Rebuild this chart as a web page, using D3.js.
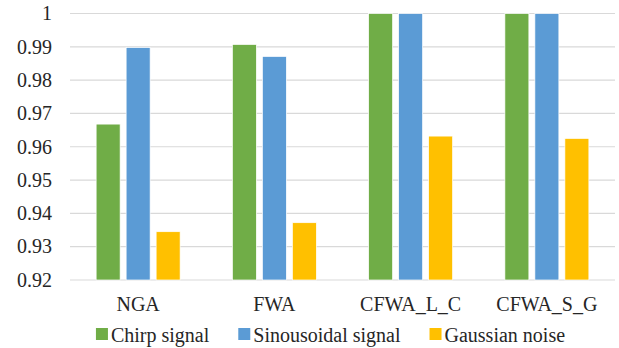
<!DOCTYPE html>
<html>
<head>
<meta charset="utf-8">
<script src="https://cdn.jsdelivr.net/npm/d3@7"></script>
</head>
<body style="margin:0">
<svg id="chart" width="619" height="348"></svg>
<script>
// Categories, series and values
const categories = ["NGA", "FWA", "CFWA_L_C", "CFWA_S_G"];
const seriesNames = ["Chirp signal", "Sinousoidal signal", "Gaussian noise"];
const seriesColors = ["#70AD47", "#5B9BD5", "#FFC000"];
const chirpValues = [0.9668, 0.9907, 1.0, 1.0];
const sinusoidValues = [0.9898, 0.9871, 1.0, 1.0];
const gaussianValues = [0.9345, 0.9372, 0.9632, 0.9625];
const yTicks = [0.92, 0.93, 0.94, 0.95, 0.96, 0.97, 0.98, 0.99, 1];

const seriesValues = [chirpValues, sinusoidValues, gaussianValues];
const serifFace = "'Liberation Serif', 'Times New Roman', serif";

// Apply the serif face and text colour to a text selection
function serifText(sel) {
  sel.style("font-family", serifFace, "important")
     .style("font-size", "20px", "important")
     .style("fill", "#262626");
}

const svg = d3.select("#chart");
const plot = { left: 70, right: 615, top: 13.5, bottom: 280 };

const y = d3.scaleLinear().domain([0.92, 1]).range([plot.bottom, plot.top]);
const x0 = d3.scaleBand().domain(categories).range([plot.left, plot.right]).padding(0);
const groupWidth = 84;
const x1 = d3.scaleBand().domain(seriesNames).range([0, groupWidth]).paddingInner(0.2);

// Horizontal gridlines
svg.append("g")
  .selectAll("line")
  .data(yTicks)
  .join("line")
  .attr("x1", plot.left)
  .attr("x2", plot.right)
  .attr("y1", d => y(d))
  .attr("y2", d => y(d))
  .attr("stroke", "#d9d9d9")
  .attr("stroke-width", 1.2);

// Y tick labels
svg.append("g")
  .selectAll("text")
  .data(yTicks)
  .join("text")
  .attr("x", 52)
  .attr("y", d => y(d) + 6.8)
  .attr("text-anchor", "end")
  .call(serifText)
  .text(d => d3.format("")(d));

// Bars
const groups = svg.append("g")
  .selectAll("g")
  .data(categories)
  .join("g")
  .attr("transform", c => `translate(${x0(c) + x0.bandwidth() / 2 - groupWidth / 2},0)`);

groups.selectAll("rect")
  .data((c, i) => seriesNames.map((s, k) => ({ s, k, v: seriesValues[k][i] })))
  .join("rect")
  .attr("x", d => x1(d.s))
  .attr("width", x1.bandwidth())
  .attr("y", d => y(d.v))
  .attr("height", d => y(0.92) - y(d.v))
  .attr("fill", d => seriesColors[d.k])
  .attr("stroke", "#ffffff")
  .attr("stroke-width", 0.7);

// Category labels
svg.append("g")
  .selectAll("text")
  .data(categories)
  .join("text")
  .attr("x", c => x0(c) + x0.bandwidth() / 2)
  .attr("y", 311)
  .attr("text-anchor", "middle")
  .call(serifText)
  .text(c => c);

// Legend
const legend = svg.append("g");
const items = legend.selectAll("g")
  .data(seriesNames)
  .join("g");
items.append("rect")
  .attr("width", 12)
  .attr("height", 12)
  .attr("y", 328)
  .attr("fill", (d, i) => seriesColors[i]);
items.append("text")
  .attr("x", 15)
  .attr("y", 341.5)
  .call(serifText)
  .text(d => d);

const widths = [];
items.each(function () {
  widths.push(15 + d3.select(this).select("text").node().getComputedTextLength());
});
const gap = 29;
const total = d3.sum(widths) + gap * (widths.length - 1);
let cursor = 330.5 - total / 2;
items.attr("transform", (d, i) => {
  const t = `translate(${cursor},0)`;
  cursor += widths[i] + gap;
  return t;
});
</script>
</body>
</html>
